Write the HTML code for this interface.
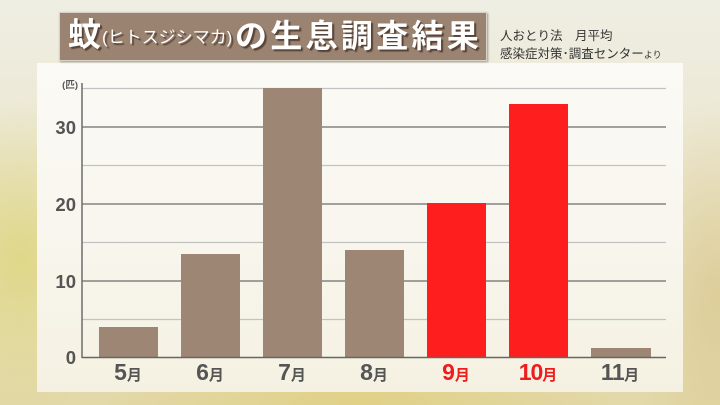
<!DOCTYPE html>
<html><head><meta charset="utf-8">
<style>
html,body{margin:0;padding:0;}
body{width:720px;height:405px;overflow:hidden;position:relative;font-family:"Liberation Sans","Noto Sans CJK JP",sans-serif;
background:
radial-gradient(ellipse 120px 160px at 20px 260px, rgba(222,214,130,0.9), rgba(222,214,130,0) 100%),
radial-gradient(ellipse 260px 90px at 360px 405px, rgba(224,208,130,0.9), rgba(224,208,130,0) 100%),
radial-gradient(ellipse 90px 200px at 715px 300px, rgba(220,204,150,0.9), rgba(220,204,150,0) 100%),
linear-gradient(180deg,#efeee3 0%,#ebe6cf 45%,#e2d8a8 100%);}
.panel{position:absolute;left:37px;top:63px;width:646px;height:329px;background:linear-gradient(180deg,#fbfaf6 0%,#f8f6ee 50%,#f5f1e2 100%);}
.title{position:absolute;left:59px;top:12px;width:426px;height:47px;background:#9b8371;border:1px solid #d9d2c8;box-shadow:1px 1px 2px rgba(0,0,0,0.35);}
.title span{position:absolute;color:#fff;font-weight:bold;white-space:nowrap;text-shadow:2px 2px 1px rgba(60,40,30,0.7);}
.src{position:absolute;left:500px;color:#333;font-size:12.5px;white-space:nowrap;font-family:"Liberation Sans","Noto Sans CJK JP",sans-serif;}
</style></head><body>
<div class="panel"></div>
<div class="title">
<span style="left:8px;top:2px;font-size:33px;line-height:40px;">蚊</span>
<span style="left:42px;top:13px;font-size:17px;line-height:24px;font-weight:normal;">(ヒトスジシマカ)</span>
<span style="left:175px;top:3px;font-size:32px;line-height:40px;letter-spacing:3.3px;">の生息調査結果</span>
</div>
<div class="src" style="top:25px;">人おとり法　月平均</div>
<div class="src" style="top:43px;">感染症対策･調査センター<span style="font-size:9px;">より</span></div>
<svg width="720" height="405" style="position:absolute;left:0;top:0;" xmlns="http://www.w3.org/2000/svg">
<g stroke-width="1.3">
<line x1="82" x2="666" y1="88.5" y2="88.5" stroke="#c2c2c2"/>
<line x1="82" x2="666" y1="127" y2="127" stroke="#6c6c6c"/>
<line x1="82" x2="666" y1="165.5" y2="165.5" stroke="#c2c2c2"/>
<line x1="82" x2="666" y1="204" y2="204" stroke="#6c6c6c"/>
<line x1="82" x2="666" y1="242.5" y2="242.5" stroke="#c2c2c2"/>
<line x1="82" x2="666" y1="281" y2="281" stroke="#6c6c6c"/>
<line x1="82" x2="666" y1="319.5" y2="319.5" stroke="#c2c2c2"/>
</g>
<g fill="#9e8674">
<rect x="99" y="327" width="59" height="30"/>
<rect x="181" y="254" width="59" height="103"/>
<rect x="263" y="88" width="59" height="269"/>
<rect x="345" y="250" width="59" height="107"/>
<rect x="591" y="348" width="60" height="9"/>
</g>
<g fill="#ff1e1e">
<rect x="427" y="203" width="59" height="154"/>
<rect x="509" y="104" width="59" height="253"/>
</g>
<line x1="82" x2="82" y1="83" y2="358" stroke="#6c6c6c" stroke-width="1.5"/>
<line x1="82" x2="666" y1="357.5" y2="357.5" stroke="#666" stroke-width="1.5"/>
<g font-family="Liberation Sans, sans-serif" font-weight="bold" font-size="18.5" fill="#555" text-anchor="end">
<text x="76" y="134">30</text>
<text x="76" y="211">20</text>
<text x="76" y="288">10</text>
<text x="76" y="364">0</text>
</g>
<text x="78" y="88" text-anchor="end" font-family="Liberation Sans, Noto Sans CJK JP, sans-serif" font-weight="bold" font-size="9.5" fill="#555">(匹)</text>
<g font-family="Liberation Sans, Noto Sans CJK JP, sans-serif" font-weight="bold" text-anchor="middle">
<text x="128" y="380" fill="#555"><tspan font-size="23">5</tspan><tspan font-size="15">月</tspan></text>
<text x="210" y="380" fill="#555"><tspan font-size="23">6</tspan><tspan font-size="15">月</tspan></text>
<text x="292" y="380" fill="#555"><tspan font-size="23">7</tspan><tspan font-size="15">月</tspan></text>
<text x="374" y="380" fill="#555"><tspan font-size="23">8</tspan><tspan font-size="15">月</tspan></text>
<text x="456" y="380" fill="#ee1c1c"><tspan font-size="23">9</tspan><tspan font-size="15">月</tspan></text>
<text x="538" y="380" fill="#ee1c1c"><tspan font-size="23" letter-spacing="-1">10</tspan><tspan font-size="15">月</tspan></text>
<text x="620" y="380" fill="#555"><tspan font-size="23" letter-spacing="-0.5">11</tspan><tspan font-size="15">月</tspan></text>
</g>
</svg>
</body></html>
